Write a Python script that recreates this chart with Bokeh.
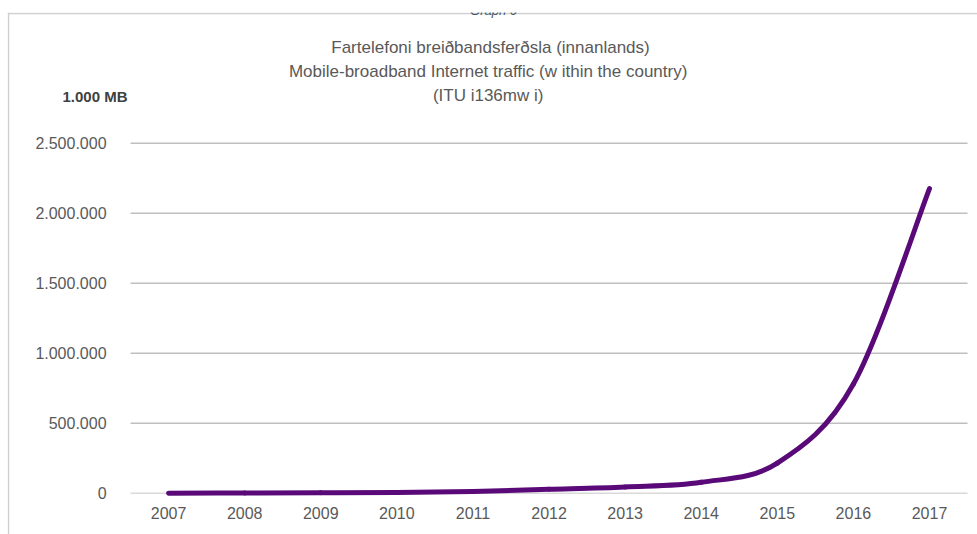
import numpy as np
from bokeh.plotting import figure
from bokeh.models import Range1d, FixedTicker, Label, Span
from bokeh.embed import file_html
from bokeh.resources import INLINE

# ---- data ----
years = ["2007", "2008", "2009", "2010", "2011", "2012", "2013", "2014", "2015", "2016", "2017"]
traffic = [300, 1000, 2500, 5500, 13000, 28000, 45000, 78000, 215000, 780000, 2175000]  # 1.000 MB
y_ticks = [0, 500000, 1000000, 1500000, 2000000, 2500000]
y_tick_labels = ["0", "500.000", "1.000.000", "1.500.000", "2.000.000", "2.500.000"]
title_lines = ["Fartelefoni breiðbandsferðsla (innanlands)",
               "Mobile-broadband  Internet traffic (w ithin the country)",
               "(ITU  i136mw i)"]
unit_label = "1.000 MB"
graph_label = "Graph 6"

# ---- layout constants (pixels) ----
W, H = 977, 534
LEFT, TOP = 7, 12
PX_FIRST = 168.1       # x pixel of first category
PX_STEP = 76.09        # pixel step between categories
PY_ZERO = 492.7        # y pixel of value 0
PX_PER_500K = 70.0

FONT = "Liberation Sans"
GREY = "#595959"

x_start = (LEFT - PX_FIRST) / PX_STEP
x_end = (W - PX_FIRST) / PX_STEP
y_start = -(H - PY_ZERO) / PX_PER_500K * 500000
y_end = (PY_ZERO - TOP) / PX_PER_500K * 500000

p = figure(width=W, height=H, output_backend="svg", toolbar_location=None,
           x_range=Range1d(x_start, x_end), y_range=Range1d(y_start, y_end),
           min_border_left=LEFT, min_border_top=TOP, min_border_right=0, min_border_bottom=0)
p.outline_line_color = None
p.background_fill_color = "white"
p.border_fill_color = "white"
p.xgrid.visible = False
p.ygrid.visible = False

xs = np.arange(len(years), dtype=float)
ys = np.array(traffic, dtype=float)

# gridlines across the category band
n = len(years)
grid_colors = ["#D9D9D9"] + ["#BFBFBF"] * (len(y_ticks) - 1)
p.segment(x0=[-0.5] * len(y_ticks), x1=[n - 0.5] * len(y_ticks), y0=y_ticks, y1=y_ticks,
          line_color=grid_colors, line_width=1.6)

# smoothed line (Bezier segments through the data points)
xp = np.concatenate([[xs[0]], xs, [xs[-1]]])
yp = np.concatenate([[ys[0]], ys, [ys[-1]]])
x0, y0 = xs[:-1], ys[:-1]
x1, y1 = xs[1:], ys[1:]
cx0 = x0 + (xp[2:-1] - xp[:-3]) / 6.0
cy0 = y0 + (yp[2:-1] - yp[:-3]) / 6.0
cx1 = x1 - (xp[3:] - xp[1:-2]) / 6.0
cy1 = y1 - (yp[3:] - yp[1:-2]) / 6.0
p.bezier(x0=x0, y0=y0, x1=x1, y1=y1, cx0=cx0, cy0=cy0, cx1=cx1, cy1=cy1,
         line_color="#5A0A78", line_width=5, line_cap="round")

# axes
p.xaxis.fixed_location = 0
p.xaxis.ticker = FixedTicker(ticks=list(range(n)))
p.xaxis.major_label_overrides = {i: y for i, y in enumerate(years)}
p.yaxis.fixed_location = -0.5
p.yaxis.ticker = FixedTicker(ticks=y_ticks)
p.yaxis.major_label_overrides = {t: l for t, l in zip(y_ticks, y_tick_labels)}
for ax in (p.xaxis, p.yaxis):
    ax.axis_line_color = None
    ax.major_tick_line_color = None
    ax.minor_tick_line_color = None
    ax.major_label_text_font = FONT
    ax.major_label_text_font_size = "16px"
    ax.major_label_text_color = GREY
p.xaxis.major_label_standoff = 8
p.yaxis.major_label_standoff = 18

# chart box
p.add_layout(Span(location=1, location_units="screen", dimension="height",
                  line_color="#CFCFCF", line_width=1.5))
p.add_layout(Span(location=H - TOP - 1, location_units="screen", dimension="width",
                  line_color="#CFCFCF", line_width=1.5))

# titles
title_y = [H - 47, H - 71, H - 95]
for txt, ty in zip(title_lines, title_y):
    p.add_layout(Label(x=490 - LEFT, y=ty, x_units="screen", y_units="screen", text=txt,
                       text_font=FONT, text_font_size="17px", text_color=GREY,
                       text_align="center", text_baseline="middle"))
p.add_layout(Label(x=62 - LEFT, y=H - 96, x_units="screen", y_units="screen", text=unit_label,
                   text_font=FONT, text_font_size="15px", text_font_style="bold",
                   text_color="#404040", text_align="left", text_baseline="middle"))
p.add_layout(Label(x=493 - LEFT, y=H - 10, x_units="screen", y_units="screen", text=graph_label,
                   text_font=FONT, text_font_size="13px", text_font_style="italic",
                   text_color="#44546A", text_align="center", text_baseline="alphabetic"))

open("out.html", "w").write(file_html(p, INLINE))
